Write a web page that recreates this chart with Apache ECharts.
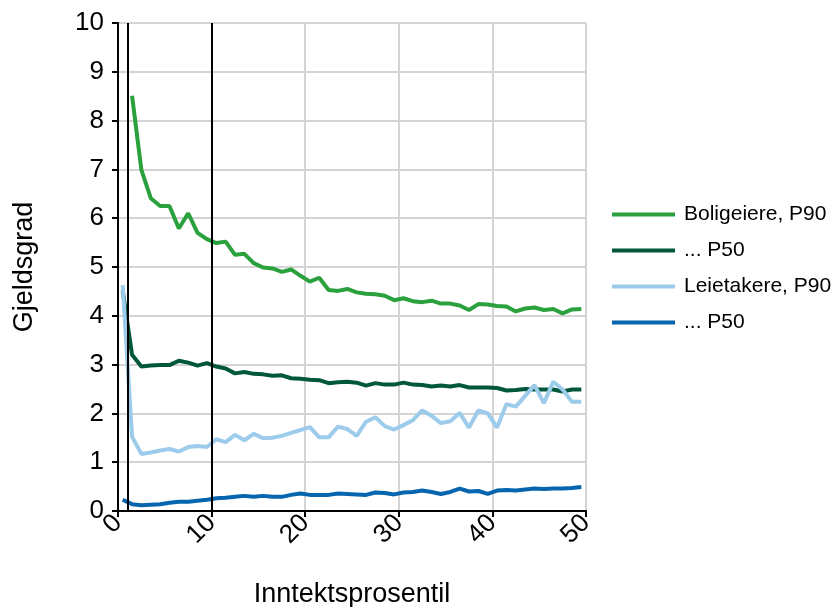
<!DOCTYPE html>
<html>
<head>
<meta charset="utf-8">
<script src="https://cdn.jsdelivr.net/npm/echarts@6/dist/echarts.min.js"></script>
<style>
html, body { margin: 0; padding: 0; background: #fff; }
#chart { width: 835px; height: 607px; }
</style>
</head>
<body>
<div id="chart"></div>
<script>
// percentile position (midpoint of each bin)
const pct = [0.5, 1.5, 2.5, 3.5, 4.5, 5.5, 6.5, 7.5, 8.5, 9.5,
  10.5, 11.5, 12.5, 13.5, 14.5, 15.5, 16.5, 17.5, 18.5, 19.5,
  20.5, 21.5, 22.5, 23.5, 24.5, 25.5, 26.5, 27.5, 28.5, 29.5,
  30.5, 31.5, 32.5, 33.5, 34.5, 35.5, 36.5, 37.5, 38.5, 39.5,
  40.5, 41.5, 42.5, 43.5, 44.5, 45.5, 46.5, 47.5, 48.5, 49.5]

const eierP90 = [null, 8.51, 6.99, 6.41, 6.25, 6.25, 5.79, 6.10, 5.70, 5.57,
  5.49, 5.52, 5.25, 5.27, 5.08, 4.99, 4.97, 4.90, 4.95, 4.82,
  4.70, 4.78, 4.53, 4.51, 4.55, 4.48, 4.45, 4.44, 4.41, 4.32,
  4.36, 4.30, 4.28, 4.31, 4.25, 4.25, 4.21, 4.12, 4.24, 4.23,
  4.20, 4.19, 4.09, 4.15, 4.17, 4.12, 4.14, 4.05, 4.13, 4.14]

const eierP50 = [4.52, 3.20, 2.96, 2.98, 2.99, 2.99, 3.08, 3.04, 2.98, 3.03,
  2.96, 2.92, 2.82, 2.85, 2.81, 2.80, 2.77, 2.78, 2.72, 2.71,
  2.69, 2.68, 2.62, 2.64, 2.65, 2.63, 2.57, 2.62, 2.59, 2.59,
  2.63, 2.59, 2.58, 2.55, 2.57, 2.55, 2.58, 2.53, 2.53, 2.53,
  2.52, 2.47, 2.48, 2.50, 2.49, 2.49, 2.49, 2.45, 2.49, 2.49]

const leieP90 = [4.63, 1.52, 1.17, 1.20, 1.24, 1.27, 1.22, 1.31, 1.33, 1.31,
  1.47, 1.41, 1.56, 1.45, 1.58, 1.49, 1.50, 1.54, 1.60, 1.66,
  1.72, 1.51, 1.51, 1.73, 1.68, 1.54, 1.83, 1.92, 1.74, 1.67,
  1.76, 1.86, 2.06, 1.95, 1.80, 1.84, 2.01, 1.71, 2.06, 2.00,
  1.71, 2.19, 2.14, 2.36, 2.58, 2.21, 2.65, 2.49, 2.24, 2.24]

const leieP50 = [0.23, 0.14, 0.12, 0.13, 0.14, 0.17, 0.19, 0.19, 0.21, 0.23,
  0.26, 0.27, 0.29, 0.31, 0.29, 0.31, 0.29, 0.29, 0.33, 0.36,
  0.33, 0.33, 0.33, 0.36, 0.35, 0.34, 0.33, 0.38, 0.37, 0.34,
  0.38, 0.39, 0.42, 0.39, 0.35, 0.39, 0.46, 0.40, 0.41, 0.35,
  0.42, 0.43, 0.42, 0.44, 0.46, 0.45, 0.46, 0.46, 0.47, 0.49]

const seriesNames = ['Boligeiere, P90', '... P50', 'Leietakere, P90', '... P50 ']
const colors = ['#2ba13d', '#00573b', '#9ccbec', '#0565ae']
const markers = [1, 10]

function pairs (vals) {
  return pct.map((x, i) => [x, vals[i]])
}

const font = 'Liberation Sans, Arial, sans-serif'

const chart = echarts.init(document.getElementById('chart'))
const allData = [eierP90, eierP50, leieP90, leieP50]
const series = allData.map((vals, k) => ({
  name: seriesNames[k],
  type: 'line',
  data: pairs(vals),
  showSymbol: false,
  connectNulls: false,
  lineStyle: { width: 4, color: colors[k] },
  itemStyle: { color: colors[k] },
  z: 3
}))
series[0].markLine = {
  silent: true,
  symbol: ['none', 'none'],
  label: { show: false },
  lineStyle: { color: '#000', width: 2, type: 'solid' },
  data: markers.map(v => ({ xAxis: v }))
}

chart.setOption({
  animation: false,
  textStyle: { fontFamily: font },
  color: colors,
  grid: { left: 118, right: 249, top: 23, bottom: 96, outerBoundsMode: 'none' },
  legend: {
    orient: 'vertical',
    left: 607,
    top: 199,
    icon: 'rect',
    itemWidth: 63,
    itemHeight: 4,
    itemGap: 15,
    textStyle: { fontSize: 21, color: '#000', fontFamily: font, padding: [0, 0, 0, 4] },
    data: seriesNames
  },
  xAxis: {
    type: 'value',
    min: 0,
    max: 50,
    interval: 10,
    name: 'Inntektsprosentil',
    nameLocation: 'middle',
    nameGap: 70,
    nameTextStyle: { fontSize: 27, color: '#000' },
    axisLine: { lineStyle: { color: '#000', width: 2 } },
    axisTick: { show: true, length: 6, lineStyle: { color: '#000', width: 2 } },
    axisLabel: { rotate: 45, fontSize: 26, color: '#000', margin: 8 },
    splitLine: { show: true, lineStyle: { color: '#d4d4d4', width: 2 } }
  },
  yAxis: {
    type: 'value',
    min: 0,
    max: 10,
    interval: 1,
    name: 'Gjeldsgrad',
    nameLocation: 'middle',
    nameGap: 80,
    nameTextStyle: { fontSize: 27, color: '#000' },
    axisLine: { show: true, lineStyle: { color: '#000', width: 2 } },
    axisTick: { show: true, length: 6, lineStyle: { color: '#000', width: 2 } },
    axisLabel: { fontSize: 26, color: '#000', margin: 14 },
    splitLine: { show: true, lineStyle: { color: '#d4d4d4', width: 2 } }
  },
  series: series
})
</script>
</body>
</html>
